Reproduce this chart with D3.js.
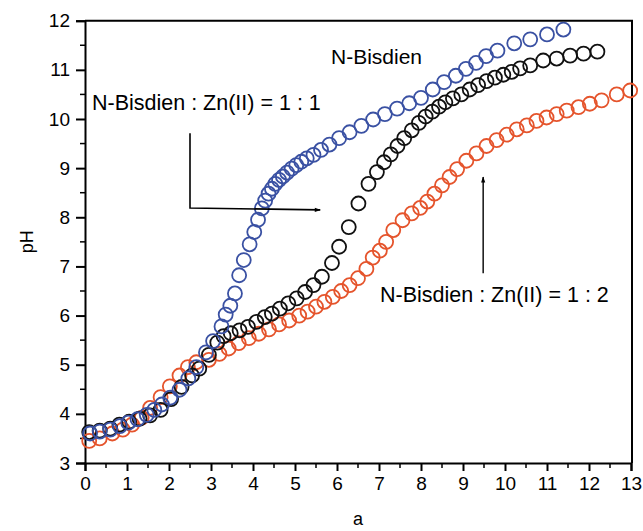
<!DOCTYPE html>
<html>
<head>
<meta charset="utf-8">
<script src="https://cdn.jsdelivr.net/npm/d3@7"></script>
<style>
  html, body { margin: 0; padding: 0; background: #fff; }
  svg { display: block; }
  text { font-family: Arial, "Liberation Sans", sans-serif; fill: #000; }
</style>
</head>
<body>
<svg id="chart" width="643" height="531"></svg>
<script>
// ---- Data ----
const xTicks = [0,1,2,3,4,5,6,7,8,9,10,11,12,13];
const yTicks = [3,4,5,6,7,8,9,10,11,12];

const ligandX = [0.1,0.35,0.6,0.82,1.05,1.3,1.55,1.8,2.05,2.3,2.55,2.72,2.95,3.15,3.3,3.47,3.68,3.88,4.08,4.28,4.45,4.64,4.84,5.04,5.24,5.44,5.64,5.88,6.05,6.28,6.51,6.75,6.95,7.12,7.28,7.44,7.6,7.78,7.95,8.11,8.27,8.43,8.58,8.76,8.96,9.16,9.36,9.56,9.76,9.96,10.16,10.36,10.6,10.91,11.23,11.55,11.87,12.2];
const ligandPH = [3.63,3.66,3.7,3.78,3.84,3.9,3.97,4.08,4.3,4.55,4.78,4.92,5.2,5.45,5.58,5.64,5.7,5.77,5.87,5.97,6.04,6.14,6.25,6.35,6.48,6.62,6.79,7.07,7.4,7.8,8.28,8.68,8.92,9.12,9.28,9.45,9.61,9.77,9.92,10.05,10.15,10.25,10.34,10.42,10.5,10.6,10.69,10.77,10.84,10.9,10.96,11.03,11.09,11.19,11.23,11.29,11.33,11.37];

const zn11X = [0.12,0.35,0.6,0.83,1.03,1.25,1.47,1.65,1.83,2.03,2.25,2.46,2.65,2.88,3.05,3.25,3.35,3.46,3.57,3.67,3.78,3.92,4.03,4.12,4.21,4.29,4.37,4.45,4.53,4.62,4.71,4.81,4.92,5.03,5.15,5.28,5.44,5.62,5.82,6.05,6.3,6.58,6.86,7.14,7.43,7.72,8.0,8.28,8.55,8.83,9.07,9.31,9.55,9.82,10.22,10.6,11.0,11.39];
const zn11PH = [3.6,3.64,3.68,3.75,3.82,3.89,3.98,4.08,4.19,4.33,4.49,4.72,4.95,5.25,5.48,5.78,6.02,6.2,6.45,6.82,7.13,7.45,7.7,7.95,8.18,8.34,8.48,8.58,8.68,8.76,8.83,8.91,8.99,9.06,9.13,9.2,9.27,9.37,9.48,9.61,9.73,9.86,9.99,10.1,10.21,10.32,10.43,10.6,10.75,10.88,11.02,11.14,11.28,11.39,11.54,11.62,11.72,11.82];

const zn12X = [0.1,0.35,0.65,0.9,1.12,1.35,1.55,1.8,2.02,2.25,2.45,2.65,2.95,3.2,3.42,3.66,3.9,4.14,4.38,4.62,4.86,5.1,5.3,5.5,5.7,5.9,6.1,6.3,6.5,6.7,6.85,7.02,7.17,7.34,7.56,7.78,7.98,8.15,8.32,8.5,8.68,8.86,9.08,9.32,9.56,9.8,10.04,10.28,10.52,10.75,10.99,11.23,11.47,11.75,12.02,12.3,12.66,12.98];
const zn12PH = [3.45,3.5,3.6,3.68,3.78,3.92,4.12,4.34,4.56,4.78,4.95,5.05,5.1,5.22,5.33,5.44,5.54,5.63,5.72,5.82,5.9,6.0,6.08,6.18,6.28,6.38,6.5,6.62,6.76,6.95,7.18,7.32,7.5,7.74,7.94,8.08,8.19,8.32,8.48,8.65,8.82,8.98,9.15,9.3,9.45,9.57,9.68,9.79,9.87,9.96,10.03,10.1,10.17,10.24,10.31,10.38,10.5,10.58];

const seriesNames = ["N-Bisdien : Zn(II) = 1 : 2", "N-Bisdien", "N-Bisdien : Zn(II) = 1 : 1"];
const seriesColors = ["#e5542c", "#111111", "#3a51a3"];

// ---- Layout ----
const svg = d3.select("#chart");
const x = d3.scaleLinear().domain([0, 13]).range([85, 631]);
const y = d3.scaleLinear().domain([3, 12]).range([463, 20.7]);

svg.append("defs").append("marker")
  .attr("id", "arrow").attr("viewBox", "0 0 10 10")
  .attr("refX", 9).attr("refY", 5)
  .attr("markerWidth", 7).attr("markerHeight", 6)
  .attr("markerUnits", "userSpaceOnUse")
  .attr("orient", "auto")
  .append("path").attr("d", "M0,1.5 L10,5 L0,8.5 Z").attr("fill", "#000");

// Frame (top and right)
svg.append("path")
  .attr("d", `M${x(0)},${y(12)} H${x(13)+1} V${y(3)}`)
  .attr("fill", "none").attr("stroke", "#000").attr("stroke-width", 2);

// Minor ticks
const xMinor = d3.range(0.5, 13, 1);
const yMinor = d3.range(3.5, 12, 1);
svg.append("g").selectAll("line").data(xMinor).join("line")
  .attr("x1", d => x(d)).attr("x2", d => x(d))
  .attr("y1", y(3)).attr("y2", y(3) + 5)
  .attr("stroke", "#000").attr("stroke-width", 1.5);
svg.append("g").selectAll("line").data(yMinor).join("line")
  .attr("y1", d => y(d)).attr("y2", d => y(d))
  .attr("x1", x(0)).attr("x2", x(0) - 5)
  .attr("stroke", "#000").attr("stroke-width", 1.5);

// Axes
const xAxis = svg.append("g").attr("transform", `translate(0,${y(3)})`)
  .call(d3.axisBottom(x).tickValues(xTicks).tickFormat(d3.format("d")).tickSize(8).tickPadding(6));
const yAxis = svg.append("g").attr("transform", `translate(${x(0)},0)`)
  .call(d3.axisLeft(y).tickValues(yTicks).tickFormat(d3.format("d")).tickSize(9).tickPadding(6));
[xAxis, yAxis].forEach(g => {
  g.select(".domain").attr("stroke-width", 2).attr("stroke", "#000");
  g.selectAll(".tick line").attr("stroke-width", 2).attr("stroke", "#000");
  g.selectAll(".tick text").attr("font-size", 19).attr("font-family", "Arial, 'Liberation Sans', sans-serif").attr("fill", "#000");
});

// Axis titles
svg.append("text").attr("x", x(6.5)).attr("y", 525).attr("text-anchor", "middle")
  .attr("font-size", 18).text("a");
svg.append("text").attr("transform", `translate(33,${y(7.5)}) rotate(-90)`)
  .attr("text-anchor", "middle").attr("font-size", 18).text("pH");

// Series
const series = [
  { xs: zn12X, ys: zn12PH },
  { xs: ligandX, ys: ligandPH },
  { xs: zn11X, ys: zn11PH }
];
series.forEach((s, i) => {
  const pts = s.xs.map((v, j) => [v, s.ys[j]]);
  svg.append("g").selectAll("circle").data(pts).join("circle")
    .attr("cx", d => x(d[0])).attr("cy", d => y(d[1]))
    .attr("r", 7)
    .attr("fill", "none").attr("stroke", seriesColors[i]).attr("stroke-width", 1.8);
});

// Annotations
svg.append("text").attr("x", 331).attr("y", 64).attr("font-size", 21).text(seriesNames[1]);
svg.append("text").attr("x", 92).attr("y", 110).attr("font-size", 21.5).text(seriesNames[2]);
svg.append("text").attr("x", 380).attr("y", 302).attr("font-size", 21.5).text(seriesNames[0]);

// Arrows
svg.append("path")
  .attr("d", `M${x(2.5)},${y(9.71)} V${y(8.19)} L${x(5.6)},${y(8.15)}`)
  .attr("fill", "none").attr("stroke", "#000").attr("stroke-width", 1.6)
  .attr("marker-end", "url(#arrow)");
svg.append("path")
  .attr("d", `M${x(9.48)},${y(6.86)} V${y(8.82)}`)
  .attr("fill", "none").attr("stroke", "#000").attr("stroke-width", 1.4)
  .attr("marker-end", "url(#arrow)");
</script>
</body>
</html>
